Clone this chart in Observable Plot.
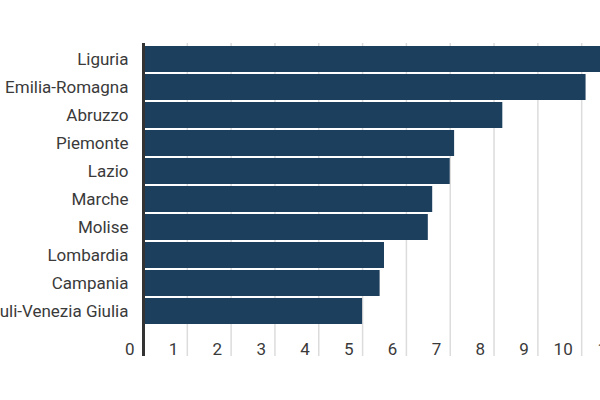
<!DOCTYPE html>
<html>
<head>
<meta charset="utf-8">
<script src="https://cdn.jsdelivr.net/npm/d3@7"></script>
<script src="https://cdn.jsdelivr.net/npm/@observablehq/plot@0.6"></script>
<style>
  html, body { margin: 0; padding: 0; background: white; overflow: hidden; width: 600px; height: 400px; }
  #chart { position: relative; width: 600px; height: 400px; overflow: hidden; }
  #chart svg { position: absolute; left: -40px; top: 0; max-width: none !important; width: 685px !important; height: 400px !important; }
</style>
</head>
<body>
<div id="chart"></div>
<script>
const regions = ["Liguria", "Emilia-Romagna", "Abruzzo", "Piemonte", "Lazio", "Marche", "Molise", "Lombardia", "Campania", "Friuli-Venezia Giulia"];
const values = [10.9, 10.1, 8.2, 7.1, 7.0, 6.6, 6.5, 5.5, 5.4, 5.0];
const xTicks = [0, 1, 2, 3, 4, 5, 6, 7, 8, 9, 10, 11];

const data = regions.map((r, i) => ({region: r, value: values[i]}));

const chart = Plot.plot({
  width: 685,
  height: 400,
  marginLeft: 183,
  marginRight: 20,
  marginTop: 43,
  marginBottom: 73,
  style: {fontFamily: "Roboto", fontSize: "17px", fontWeight: 400, color: "#333", background: "white", maxWidth: "none"},
  x: {domain: [0, 11]},
  y: {domain: regions, paddingInner: 0.08, paddingOuter: 0.03},
  marks: [
    Plot.ruleX(xTicks.slice(1), {stroke: "#dcdcdc", strokeWidth: 1.5, insetBottom: -29}),
    Plot.barX(data, {x: "value", y: "region", fill: "#1d3f5e"}),
    Plot.ruleX([0], {stroke: "#333", strokeWidth: 3, insetBottom: -29}),
    Plot.axisX({ticks: xTicks, tickSize: 0, tickPadding: 15, textAnchor: "end", dx: -9, label: null, fill: "#3a3a3a"}),
    Plot.axisY({tickSize: 0, tickPadding: 15, label: null, fill: "#3a3a3a"})
  ]
});
document.getElementById("chart").appendChild(chart);
</script>
</body>
</html>
